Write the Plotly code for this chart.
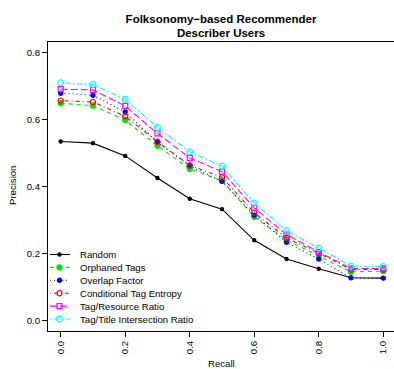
import plotly.graph_objects as go

# ---- data ----
recall = [0.0, 0.1, 0.2, 0.3, 0.4, 0.5, 0.6, 0.7, 0.8, 0.9, 1.0]
random_p = [0.535, 0.530, 0.492, 0.426, 0.364, 0.333, 0.240, 0.184, 0.155, 0.128, 0.127]
orphaned = [0.649, 0.642, 0.599, 0.522, 0.453, 0.418, 0.310, 0.241, 0.193, 0.146, 0.148]
overlap = [0.679, 0.673, 0.623, 0.533, 0.462, 0.416, 0.315, 0.234, 0.184, 0.128, 0.127]
conditional = [0.657, 0.653, 0.610, 0.534, 0.464, 0.428, 0.322, 0.247, 0.201, 0.153, 0.153]
tag_resource = [0.691, 0.689, 0.641, 0.559, 0.486, 0.445, 0.337, 0.257, 0.205, 0.156, 0.156]
tag_title = [0.710, 0.705, 0.661, 0.577, 0.504, 0.462, 0.351, 0.269, 0.217, 0.163, 0.162]

series_names = ["Random", "Orphaned Tags", "Overlap Factor", "Conditional Tag Entropy",
                "Tag/Resource Ratio", "Tag/Title Intersection Ratio"]
series_values = [random_p, orphaned, overlap, conditional, tag_resource, tag_title]
x_ticks = [0.0, 0.2, 0.4, 0.6, 0.8, 1.0]
y_ticks = [0.0, 0.2, 0.4, 0.6, 0.8]

# ---- styles ----
colors = ["#000000", "#00E600", "#0000FF", "#FF0000", "#FF00FF", "#00FFFF"]
dashes = ["solid", "4px,4px", "1px,3px", "1px,3px,4px,3px", "7px,3px", "2px,2px,6px,2px"]
symbols = ["circle", "circle", "circle", "circle-open", "square-open", "circle-open"]
msizes = [3.2, 5.2, 4.2, 5.2, 5, 5.8]

FONT = "Liberation Sans, Arial, Helvetica, sans-serif"
W, H = 394, 369
ML, MT, MB, MR = 48, 42, 38, 0

fig = go.Figure()
for name, vals, c, d, s, ms in zip(series_names, series_values, colors, dashes, symbols, msizes):
    fig.add_trace(go.Scatter(
        x=recall, y=vals, mode="lines+markers", name=name, showlegend=False,
        line=dict(color=c, width=1.1, dash=d),
        marker=dict(color=c, symbol=s, size=ms, line=dict(color=c, width=1.2)),
    ))

# ---- manual legend (pixel coordinate overlay axes) ----
LEG_TOP, LEG_STEP = 254.5, 12.9
LEG_X0, LEG_X1, LEG_XM, LEG_TX = 50, 70, 59.5, 77.5
annotations = []
for i, (name, c, d, s, ms) in enumerate(zip(series_names, colors, dashes, symbols, msizes)):
    yy = LEG_TOP + i * LEG_STEP
    fig.add_trace(go.Scatter(
        x=[LEG_X0, LEG_XM, LEG_X1], y=[yy, yy, yy], xaxis="x2", yaxis="y2",
        mode="lines", showlegend=False, hoverinfo="skip",
        line=dict(color=c, width=1.1, dash=d)))
    fig.add_trace(go.Scatter(
        x=[LEG_XM], y=[yy], xaxis="x2", yaxis="y2",
        mode="markers", showlegend=False, hoverinfo="skip",
        marker=dict(color=c, symbol=s, size=ms, line=dict(color=c, width=1.2))))
    annotations.append(dict(x=LEG_TX, y=yy, xref="x2", yref="y2", text=name,
                            showarrow=False, xanchor="left", yanchor="middle",
                            font=dict(family=FONT, size=9.6, color="black")))

plot_h = H - MT - MB
plot_w = W - ML - MR
# axis titles
annotations.append(dict(x=(221 - ML) / plot_w, y=-(363 - (H - MB)) / plot_h, xref="paper", yref="paper",
                        text="Recall", showarrow=False, xanchor="center", yanchor="middle",
                        font=dict(family=FONT, size=9.6, color="black")))
annotations.append(dict(x=-(ML - 12) / plot_w, y=(H - MB - 186) / plot_h, xref="paper", yref="paper",
                        text="Precision", showarrow=False, xanchor="center", yanchor="middle",
                        textangle=-90, font=dict(family=FONT, size=9.6, color="black")))

# ranges matching pixel positions of reference
x0_px, x_scale = 60.7, 322.6
y0_px, y_scale = 320.7, 335.0
xr = [-(x0_px - ML) / x_scale, (W - MR - x0_px) / x_scale]
yr = [-((H - MB) - y0_px) / y_scale, (y0_px - MT) / y_scale]

fig.update_layout(
    width=W, height=H,
    margin=dict(l=ML, r=MR, t=MT, b=MB, pad=0, autoexpand=False),
    paper_bgcolor="white", plot_bgcolor="white",
    font=dict(family=FONT, size=9.6, color="black"),
    title=dict(text="<b>Folksonomy−based Recommender<br>Describer Users</b>",
               x=221 / W, xanchor="center", xref="container",
               y=1 - 22.5 / H, yanchor="middle", yref="container",
               font=dict(family=FONT, size=11.5, color="black")),
    xaxis=dict(range=xr, tickvals=x_ticks, ticktext=[f"{v:.1f}" for v in x_ticks],
               tickangle=-90, ticks="outside", ticklen=5, tickwidth=1, tickcolor="black",
               showline=True, linecolor="black", linewidth=1, mirror=True,
               showgrid=False, zeroline=False, fixedrange=True, automargin=False,
               tickfont=dict(family=FONT, size=9.6, color="black")),
    yaxis=dict(range=yr, tickvals=y_ticks, ticktext=[f"{v:.1f}" for v in y_ticks],
               ticks="outside", ticklen=5, tickwidth=1, tickcolor="black",
               showline=True, linecolor="black", linewidth=1, mirror=False,
               showgrid=False, zeroline=False, fixedrange=True, automargin=False,
               tickfont=dict(family=FONT, size=9.6, color="black")),
    xaxis2=dict(range=[ML, W - MR], overlaying="x", anchor="y2", visible=False,
                fixedrange=True, automargin=False),
    yaxis2=dict(range=[H - MB, MT], overlaying="y", anchor="x2", visible=False,
                fixedrange=True, automargin=False),
    annotations=annotations,
    showlegend=False,
)

fig.write_html(
    "out.html",
    config={"displayModeBar": False},
    post_script="document.body.style.margin='0';document.body.style.padding='0';"
                "document.body.style.overflow='hidden';",
)
